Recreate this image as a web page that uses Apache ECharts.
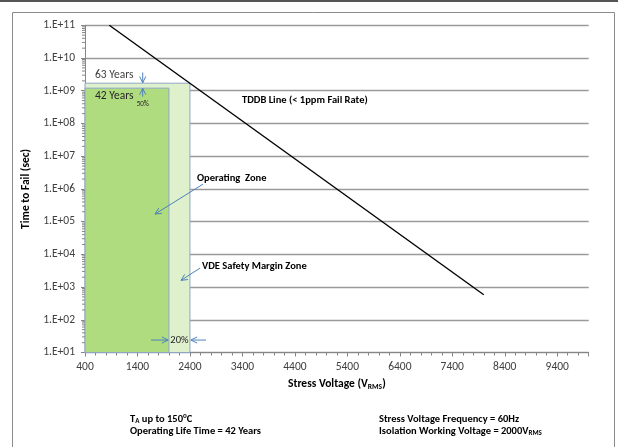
<!DOCTYPE html>
<html>
<head>
<meta charset="utf-8">
<script src="https://cdn.jsdelivr.net/npm/echarts@6/dist/echarts.min.js"></script>
<style>html,body{margin:0;padding:0;background:#fff}#c{width:618px;height:447px}</style>
</head>
<body>
<div id="c"></div>
<script>
// ---- data ----
var xMin = 400, xMax = 10000, xStep = 1000;
var yMin = 1e1, yMax = 1e11;
// TDDB line (< 1ppm fail rate): [stress voltage, time to fail]
var tddbLine = [[863, 1e11], [8000, 580]];
// zones: [x start, x end, top time]
var safetyZone = [[400, 2400, 1.7e9]];
var operatingZone = [[400, 2000, 1.2e9]];

var FONT = 'Carlito, Lato, "Liberation Sans", sans-serif';
var chart = echarts.init(document.getElementById('c'), null, {renderer: 'canvas'});

function expLabel(v) {
  var e = Math.round(Math.log10(v));
  return '1.E+' + (e < 10 ? '0' + e : '' + e);
}

// log minor tick positions (axis decoration)
var minorLog = [];
for (var d = 1; d < 11; d++) for (var m = 2; m <= 9; m++) minorLog.push([xMin, m * Math.pow(10, d)]);

function zoneItem(fill) {
  return function (params, api) {
    var p0 = api.coord([api.value(0), api.value(2)]);
    var p1 = api.coord([api.value(1), yMin]);
    return {
      type: 'rect',
      shape: {x: p0[0], y: p0[1], width: p1[0] - p0[0], height: p1[1] - p0[1]},
      style: {fill: fill, stroke: '#8ea6c6', lineWidth: 1}
    };
  };
}

chart.setOption({
  animation: false,
  textStyle: {fontFamily: FONT},
  grid: {left: 85, top: 25.3, right: 29.3, bottom: 94.5, containLabel: false, outerBoundsMode: 'none'},
  xAxis: {
    type: 'value', min: xMin, max: xMax, interval: xStep,
    axisLine: {lineStyle: {color: '#868686', width: 1}},
    axisTick: {show: true, length: 4, lineStyle: {color: '#868686'}},
    minorTick: {show: true, splitNumber: 5, length: 3, lineStyle: {color: '#868686'}},
    splitLine: {show: false},
    axisLabel: {color: '#404040', fontSize: 11.5, fontFamily: FONT, margin: 9, showMaxLabel: false,
                formatter: function (v) { return String(v); }},
    name: '{b|Stress Voltage (V}{s|RMS}{b|)}',
    nameLocation: 'middle', nameGap: 25,
    nameTextStyle: {rich: {
      b: {fontWeight: 'bold', fontSize: 11.5, fontFamily: FONT, color: '#000'},
      s: {fontWeight: 'bold', fontSize: 7.5, fontFamily: FONT, color: '#000', padding: [5, 0, 0, 0]}
    }}
  },
  yAxis: {
    type: 'log', logBase: 10, min: yMin, max: yMax, splitNumber: 10, interval: 1,
    axisLine: {show: true, lineStyle: {color: '#868686', width: 1}},
    axisTick: {show: true, length: 4, lineStyle: {color: '#868686'}},
    splitLine: {show: true, lineStyle: {color: '#9a9a9a', width: 1.4}},
    axisLabel: {color: '#404040', fontSize: 11.5, fontFamily: FONT, margin: 10, formatter: expLabel},
    name: 'Time to Fail (sec)', nameLocation: 'middle', nameGap: 52, nameRotate: 90,
    nameTextStyle: {fontWeight: 'bold', fontSize: 11.5, fontFamily: FONT, color: '#000'}
  },
  series: [
    {type: 'custom', name: 'VDE Safety Margin Zone', data: safetyZone, renderItem: zoneItem('#dff0cc'), z: 2, silent: true},
    {type: 'custom', name: 'Operating Zone', data: operatingZone, renderItem: zoneItem('#b0dc80'), z: 3, silent: true},
    {type: 'line', name: 'TDDB', data: tddbLine, showSymbol: false, symbol: 'none',
     lineStyle: {color: '#000', width: 1.4}, z: 4, silent: true},
    {type: 'custom', name: 'minorLogTicks', data: minorLog, silent: true, z: 5,
     renderItem: function (params, api) {
       var p = api.coord([api.value(0), api.value(1)]);
       return {type: 'line', shape: {x1: p[0] - 3, y1: p[1], x2: p[0], y2: p[1]},
               style: {stroke: '#868686', lineWidth: 1}};
     }}
  ]
});

// ---- annotations placed in data coordinates ----
function P(v, t) { return chart.convertToPixel({xAxisIndex: 0, yAxisIndex: 0}, [v, t]); }
var BLUE = '#4f81bd';
var g = [];
function arrow(a, b) {
  var p0 = P(a[0], a[1]), p1 = P(b[0], b[1]);
  var ang = Math.atan2(p1[1] - p0[1], p1[0] - p0[0]);
  var L = 7, s = 0.45;
  var h1 = [p1[0] - L * Math.cos(ang - s), p1[1] - L * Math.sin(ang - s)];
  var h2 = [p1[0] - L * Math.cos(ang + s), p1[1] - L * Math.sin(ang + s)];
  g.push({type: 'line', shape: {x1: p0[0], y1: p0[1], x2: p1[0], y2: p1[1]}, style: {stroke: BLUE, lineWidth: 1}, z: 10});
  g.push({type: 'polyline', shape: {points: [h1, p1, h2]}, style: {stroke: BLUE, lineWidth: 1, fill: null}, z: 10});
}
function txt(v, t, s, opt) {
  var p = P(v, t);
  var st = Object.assign({text: s, fontFamily: FONT, fontSize: 11.5, fill: '#000', align: 'left', verticalAlign: 'middle'}, opt || {});
  g.push({type: 'text', x: p[0], y: p[1], style: st, z: 11});
}

txt(590, 3e9, '63 Years', {fill: '#404040'});
txt(590, 6.9e8, '42 Years', {fill: '#262626'});
arrow([1500, 3.6e9], [1500, 1.75e9]);
arrow([1500, 6.6e8], [1500, 1.18e9]);
txt(1500, 3.9e8, '50%', {fontSize: 7, align: 'center', fill: '#262626'});
txt(3392, 5.2e8, 'TDDB Line (< 1ppm Fail Rate)', {fontWeight: 'bold', fontSize: 10.5});
txt(2534, 2.1e6, 'Operating  Zone', {fontWeight: 'bold', fontSize: 10.5});
arrow([2650, 1.4e6], [1734, 1.7e5]);
txt(2630, 4.2e3, 'VDE Safety Margin Zone', {fontWeight: 'bold', fontSize: 10.5});
arrow([2592, 3.8e3], [2230, 1.6e3]);
txt(2200, 24, '20%', {fontSize: 10.5, align: 'center', fill: '#262626'});
arrow([1658, 24], [1985, 24]);
arrow([2706, 24], [2418, 24]);

// frame and footnotes
g.push({type: 'rect', shape: {x: 0, y: 0, width: 618, height: 2}, style: {fill: '#555'}, z: 1});
g.push({type: 'rect', shape: {x: 12.5, y: 12.5, width: 602, height: 460}, style: {fill: null, stroke: '#8a8a8a', lineWidth: 1}, z: 1});
var rich = {
  b: {fontWeight: 'bold', fontSize: 10.5, fontFamily: FONT, color: '#000'},
  s: {fontWeight: 'bold', fontSize: 7, fontFamily: FONT, color: '#000', padding: [5, 0, 0, 0]},
  u: {fontWeight: 'bold', fontSize: 7, fontFamily: FONT, color: '#000', padding: [0, 0, 5, 0]}
};
function foot(x, y, s) {
  g.push({type: 'text', x: x, y: y, style: {text: s, rich: rich, verticalAlign: 'middle', align: 'left'}, z: 11});
}
foot(130, 419, '{b|T}{s|A}{b| up to 150}{u|o}{b|C}');
foot(130, 431, '{b|Operating Life Time = 42 Years}');
foot(379, 419, '{b|Stress Voltage Frequency = 60Hz}');
foot(379, 431, '{b|Isolation Working Voltage = 2000V}{s|RMS}');

chart.setOption({graphic: {elements: g}});
</script>
</body>
</html>
